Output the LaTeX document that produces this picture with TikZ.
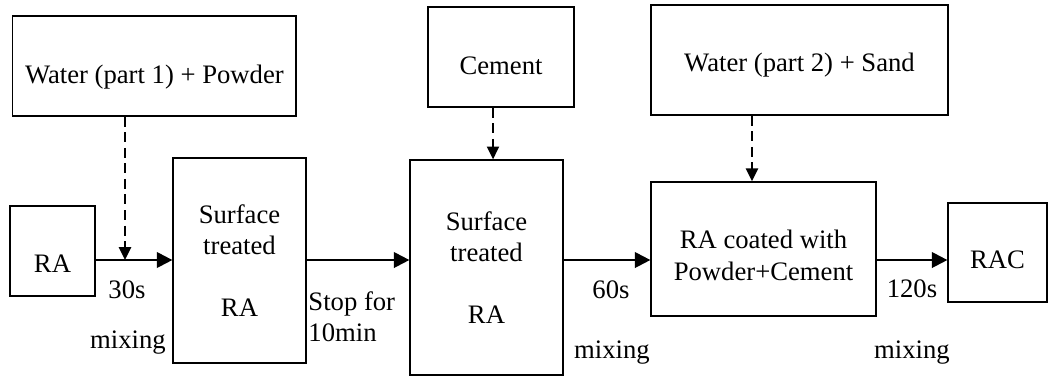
\documentclass[tikz,border=0pt]{standalone}
\usepackage{fontspec}
\setmainfont{Liberation Serif}
\usetikzlibrary{arrows.meta,positioning}
\tikzstyle{box}=[draw,rectangle,line width=0.6pt,align=center,inner sep=2pt]
\tikzstyle{flow}=[-{Triangle[length=7pt,width=7pt]},line width=1pt]
\tikzstyle{feed}=[-{Triangle[length=5.8pt,width=5.4pt]},line width=1pt,dash pattern=on 4.5pt off 2.5pt]
\tikzstyle{note}=[inner sep=0pt,anchor=base]

\begin{document}
\begin{tikzpicture}[x=0.45pt,y=-0.45pt,font=\fontsize{12}{14}\selectfont]
\useasboundingbox (0,0) rectangle (1048,376);

% what goes in
\node (w1) [box, minimum width=127.5pt, minimum height=45pt, text height=15.3pt, text depth=0pt] at (154.4,66) {Water (part 1) + Powder};
\node (ce) [box, minimum width=65.7pt, minimum height=45pt, text height=15.3pt, text depth=0pt] at (501,57) {Cement};
\node (w2) [box, minimum width=133.6pt, minimum height=49.5pt, text height=10pt, text depth=0pt] at (799.5,60) {Water (part 2) + Sand};

% the mixing line
\node (ra) [box, minimum width=38.2pt, minimum height=40.5pt, text height=18.9pt, text depth=0pt] at (52.5,251) {RA};
\node (st1) [box, minimum width=59.8pt, minimum height=92.2pt] at (239.5,260.5) {Surface\\treated\\[14pt]RA};
\node (st2) [box, minimum width=68.8pt, minimum height=96.7pt] at (486.5,267.5) {Surface\\treated\\[14pt]RA};
\node (rc) [box, minimum width=101.2pt, minimum height=60.3pt, text height=30.6pt, text depth=2.7pt] at (763.5,249) {RA coated with\\Powder+Cement};
\node (rac) [box, minimum width=44.5pt, minimum height=44.5pt, text height=14pt, text depth=0pt] at (997.5,252.5) {RAC};

\coordinate (mid) at (0,260);
\coordinate (j1) at (125,260);
\coordinate (j2) at (493,160);
\coordinate (j3) at (752,182);

\draw[flow] (ra.east |- mid) -- (st1.west |- mid);
\draw[flow] (st1.east |- mid) -- (st2.west |- mid);
\draw[flow] (st2.east |- mid) -- (rc.west |- mid);
\draw[flow] (rc.east |- mid) -- (rac.west |- mid);

\draw[feed] (w1.south -| j1) -- (j1);
\draw[feed] (ce.south -| j2) -- (st2.north -| j2);
\draw[feed] (w2.south -| j3) -- (rc.north -| j3);

% times
\node (t1) [note] at (127,298) {30s};
\node (m1) [note] at (128,348) {mixing};
\node (t2) [note, anchor=north west, align=left] at (308,291) {Stop for\\10min};
\node (t3) [note] at (611,298) {60s};
\node (m2) [note] at (612,358) {mixing};
\node (t4) [note] at (912,297) {120s};
\node (m3) [note] at (912,358) {mixing};
\end{tikzpicture}
\end{document}
